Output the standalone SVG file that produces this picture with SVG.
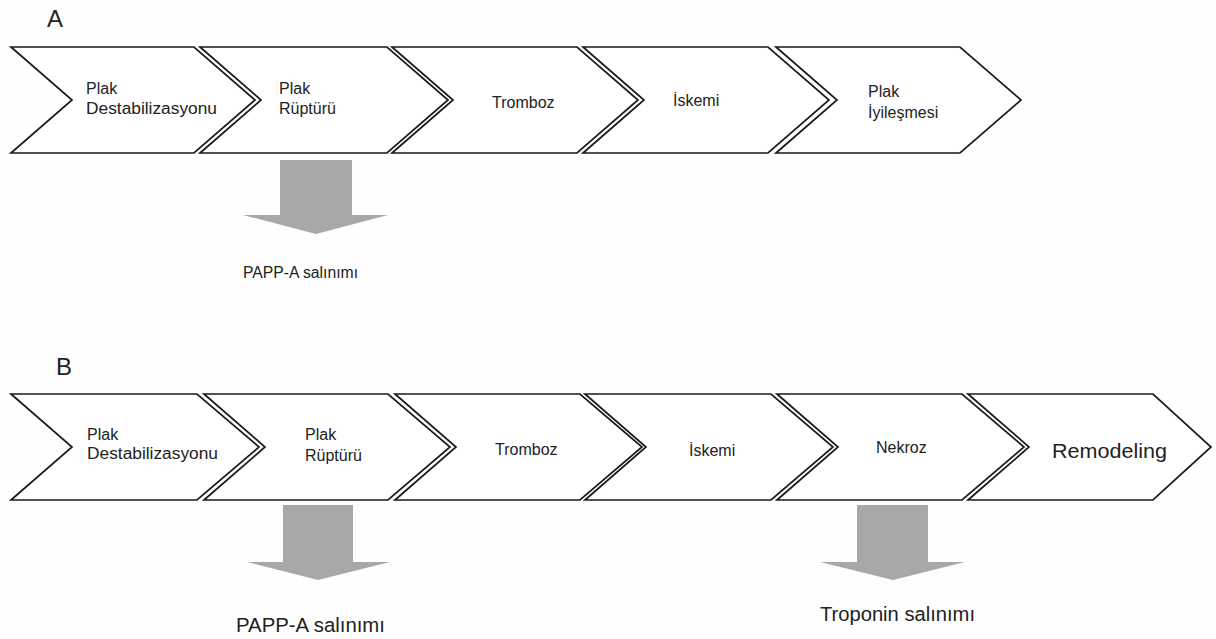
<svg xmlns="http://www.w3.org/2000/svg" width="1216" height="639" viewBox="0 0 1216 639">
<style>
.bg{fill:#fefefe}
.chev{fill:#ffffff;stroke:#1a1a1a;stroke-width:1.7;stroke-linejoin:miter}
.arr{fill:#a8a8a8}
.lbl{font-family:"Liberation Sans",Arial,sans-serif;fill:#222}
.s{font-size:16px}
.m{font-size:20px}
.h{font-size:24px}
</style>
<rect class="bg" x="0" y="0" width="1216" height="639"/>
<text class="lbl h" x="47" y="27">A</text>
<text class="lbl h" x="56" y="375">B</text>
<g id="a1"><polygon class="chev" points="11,47 194,47 255,100 194,153 11,153 72,100"/><text class="lbl s" x="86" y="94">Plak</text><text class="lbl s" x="86" y="114" textLength="131" lengthAdjust="spacingAndGlyphs">Destabilizasyonu</text></g>
<g id="a2"><polygon class="chev" points="200,47 387,47 448,100 387,153 200,153 261,100"/><text class="lbl s" x="279" y="94">Plak</text><text class="lbl s" x="279" y="114">Rüptürü</text></g>
<g id="a3"><polygon class="chev" points="392,47 577,47 638,100 577,153 392,153 453,100"/><text class="lbl s" x="492" y="108">Tromboz</text></g>
<g id="a4"><polygon class="chev" points="583,47 768,47 829,100 768,153 583,153 644,100"/><text class="lbl s" x="673" y="106">İskemi</text></g>
<g id="a5"><polygon class="chev" points="776,47 960,47 1021,100 960,153 776,153 837,100"/><text class="lbl s" x="868" y="97">Plak</text><text class="lbl s" x="868" y="118">İyileşmesi</text></g>
<g id="b1"><polygon class="chev" points="11,394 197,394 259,447 197,500 11,500 72,447"/><text class="lbl s" x="87" y="440">Plak</text><text class="lbl s" x="87" y="459" textLength="131" lengthAdjust="spacingAndGlyphs">Destabilizasyonu</text></g>
<g id="b2"><polygon class="chev" points="204,394 388,394 450,447 388,500 204,500 265,447"/><text class="lbl s" x="305" y="440">Plak</text><text class="lbl s" x="305" y="461">Rüptürü</text></g>
<g id="b3"><polygon class="chev" points="395,394 580,394 642,447 580,500 395,500 456,447"/><text class="lbl s" x="495" y="455">Tromboz</text></g>
<g id="b4"><polygon class="chev" points="585,394 771,394 833,447 771,500 585,500 646,447"/><text class="lbl s" x="689" y="456">İskemi</text></g>
<g id="b5"><polygon class="chev" points="777,394 962,394 1024,447 962,500 777,500 838,447"/><text class="lbl s" x="876" y="453">Nekroz</text></g>
<g id="b6"><polygon class="chev" points="968,394 1153,394 1211,447 1153,500 968,500 1029,447"/><text class="lbl m" x="1052" y="458" textLength="115" lengthAdjust="spacingAndGlyphs">Remodeling</text></g>
<g id="connectors">
<polygon class="arr" points="280,160 352,160 352,215 388,215 316,234 243,215 280,215"/>
<polygon class="arr" points="283,505 353,505 353,562 390,562 318,580 247,562 283,562"/>
<polygon class="arr" points="857,505 928,505 928,562 965,562 893,580 820,562 857,562"/>
</g>
<g id="l1"><text class="lbl s" x="243" y="278" textLength="115" lengthAdjust="spacingAndGlyphs">PAPP-A salınımı</text></g>
<g id="l2"><text class="lbl m" x="236" y="632" textLength="149" lengthAdjust="spacingAndGlyphs">PAPP-A salınımı</text></g>
<g id="l3"><text class="lbl m" x="820" y="621" textLength="155" lengthAdjust="spacingAndGlyphs">Troponin salınımı</text></g>
</svg>
